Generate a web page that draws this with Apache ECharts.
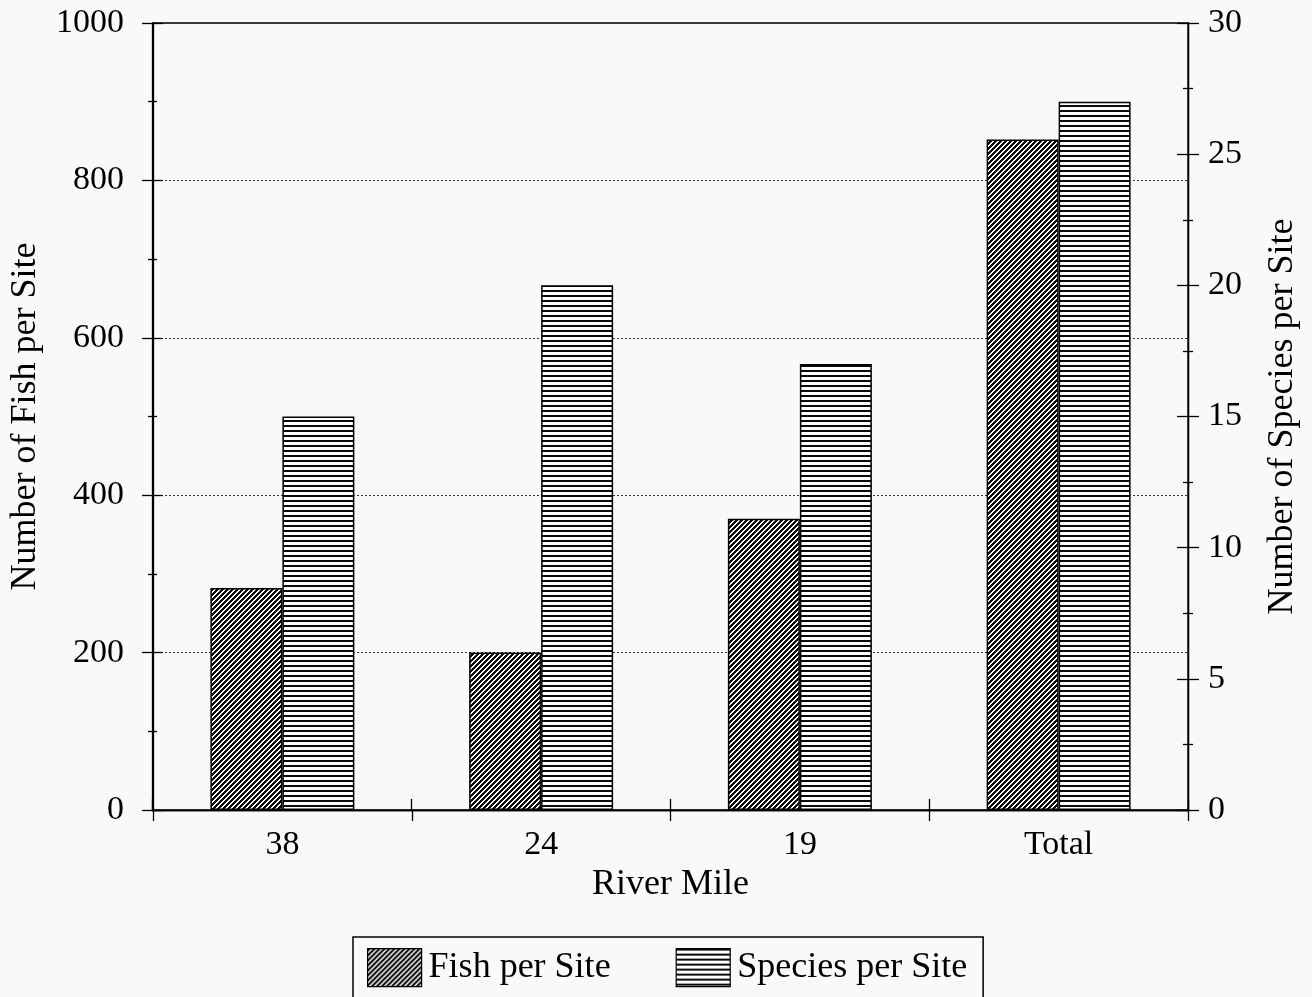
<!DOCTYPE html>
<html><head><meta charset="utf-8">
<script src="https://cdn.jsdelivr.net/npm/echarts@6/dist/echarts.min.js"></script>
<style>html,body{margin:0;padding:0;background:#f9f9f9}#c{width:1312px;height:997px}</style>
</head><body><div id="c"></div>
<script>
const categories = ['38', '24', '19', 'Total'];
const fishPerSite = [282, 200, 370, 852];
const speciesPerSite = [15, 20, 17, 27];
const seriesNames = ['Fish per Site', 'Species per Site'];
const axisNames = { x: 'River Mile', left: 'Number of Fish per Site', right: 'Number of Species per Site' };

const FONT = "'Liberation Serif', 'Times New Roman', serif";

function diagPattern() {
  const n = 5;
  const c = document.createElement('canvas');
  c.width = n; c.height = n;
  const g = c.getContext('2d');
  g.fillStyle = '#ffffff'; g.fillRect(0, 0, n, n);
  g.fillStyle = '#0a0a0a';
  for (let x = 0; x < n; x++) for (let y = 0; y < n; y++) {
    if ((x + y) % n < 3) g.fillRect(x, y, 1, 1);
  }
  return c;
}
function horizPattern() {
  const c = document.createElement('canvas');
  c.width = 8; c.height = 5;
  const g = c.getContext('2d');
  g.fillStyle = '#ffffff'; g.fillRect(0, 0, 8, 5);
  g.fillStyle = '#0a0a0a'; g.fillRect(0, 0, 8, 2);
  return c;
}

const chart = echarts.init(document.getElementById('c'), null, { renderer: 'canvas' });
const tickTxt = { color: '#000', fontFamily: FONT, fontSize: 34 };
const nameTxt = { color: '#000', fontFamily: FONT, fontSize: 36 };
const lineSt = { color: '#000', width: 1.3 };

function yAx(gridIndex, pos, min, max, interval, inside, withLabel, name, nameGap, margin) {
  return {
    type: 'value', gridIndex: gridIndex, position: pos, min: min, max: max, interval: interval,
    name: withLabel ? name : '', nameLocation: 'middle', nameGap: nameGap,
    nameTextStyle: nameTxt,
    axisLine: { show: true, lineStyle: lineSt },
    axisTick: { show: true, inside: inside, length: 11, lineStyle: lineSt },
    minorTick: { show: true, splitNumber: 2, length: 5, lineStyle: lineSt },
    axisLabel: { show: withLabel, ...tickTxt, margin: margin, formatter: v => String(v) },
    splitLine: { show: false }
  };
}
function xAx(gridIndex, inside, withLabel) {
  return {
    type: 'category', gridIndex: gridIndex, data: categories, position: 'bottom',
    name: withLabel ? axisNames.x : '', nameLocation: 'middle', nameGap: 57, nameTextStyle: nameTxt,
    axisLine: { show: true, lineStyle: lineSt },
    axisTick: { show: true, inside: inside, alignWithLabel: false, length: 11, lineStyle: lineSt },
    axisLabel: { show: withLabel, ...tickTxt, margin: 18 },
    splitLine: { show: false }
  };
}

const left0 = yAx(0, 'left', 0, 1000, 200, false, true, axisNames.left, 109, 29);
left0.splitLine = { show: true, lineStyle: { color: '#333', type: [2, 2], width: 1 } };

const gridRect = { left: 152, right: 124, top: 23, bottom: 187 };

const option = {
  backgroundColor: '#f9f9f9',
  animation: false,
  grid: [
    { ...gridRect, show: true, borderColor: '#000', borderWidth: 1.3, backgroundColor: 'transparent' },
    { ...gridRect, show: false }
  ],
  legend: {
    data: seriesNames,
    left: 353, top: 937,
    padding: [11, 16, 12, 14],
    itemWidth: 54, itemHeight: 38, itemGap: 65,
    borderColor: '#000', borderWidth: 1.5,
    textStyle: { ...nameTxt, padding: [0, 0, 0, 2] },
    icon: 'rect',
    itemStyle: { borderColor: '#000', borderWidth: 1.2 }
  },
  xAxis: [xAx(0, false, true), xAx(1, true, false)],
  yAxis: [
    left0,
    yAx(0, 'right', 0, 30, 5, false, true, axisNames.right, 77, 20),
    yAx(1, 'left', 0, 1000, 200, true, false, '', 0, 0),
    yAx(1, 'right', 0, 30, 5, true, false, '', 0, 0)
  ],
  series: [
    {
      name: seriesNames[0], type: 'bar', xAxisIndex: 0, yAxisIndex: 0,
      data: fishPerSite, barWidth: 72, barGap: '0%',
      itemStyle: { color: { image: diagPattern(), repeat: 'repeat' }, borderColor: '#000', borderWidth: 1.5 }
    },
    {
      name: seriesNames[1], type: 'bar', xAxisIndex: 0, yAxisIndex: 1,
      data: speciesPerSite, barWidth: 72, barGap: '0%',
      itemStyle: { color: { image: horizPattern(), repeat: 'repeat' }, borderColor: '#000', borderWidth: 1.5 }
    }
  ]
};
chart.setOption(option);
</script>
</body></html>
